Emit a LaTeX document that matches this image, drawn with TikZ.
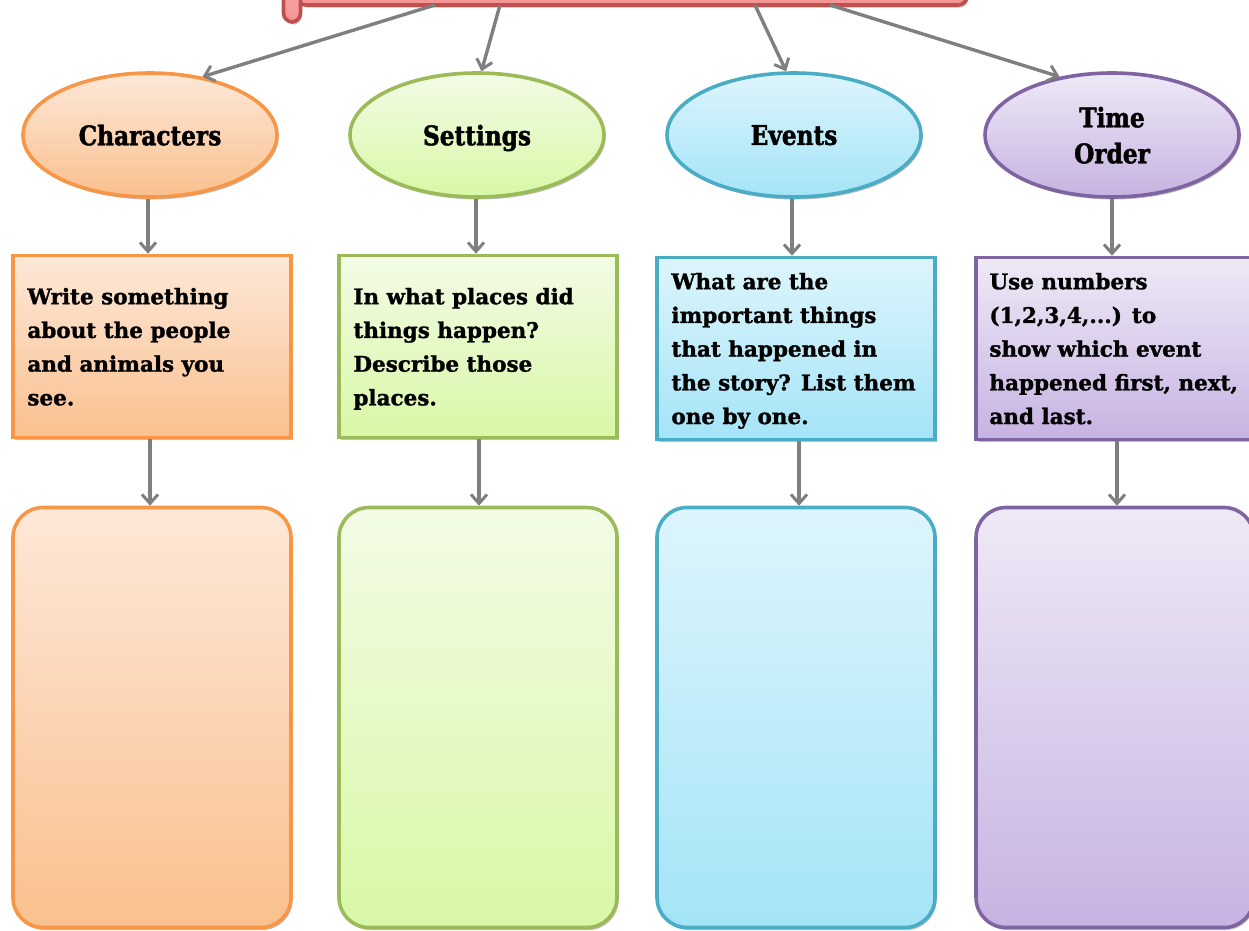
\documentclass[tikz,border=0pt]{standalone}
\usepackage{fontspec}
\setmainfont{DejaVu Serif}
\newfontfamily\lblfont{DejaVu Serif Bold}[FakeStretch=0.86,FakeBold=1.6]
\newfontfamily\boxfont{DejaVu Serif Bold}[FakeBold=1.3]
\usetikzlibrary{arrows.meta,shadows,shapes.geometric}
\definecolor{arrgray}{HTML}{7F7F7F}
\definecolor{orB}{HTML}{F79646}\definecolor{orT}{HTML}{FDE8D8}\definecolor{orD}{HTML}{FAC08F}
\definecolor{grB}{HTML}{9BBB59}\definecolor{grT}{HTML}{F3FBE6}\definecolor{grD}{HTML}{D8F8A6}
\definecolor{blB}{HTML}{4BACC6}\definecolor{blT}{HTML}{DDF5FC}\definecolor{blD}{HTML}{A4E4F7}
\definecolor{puB}{HTML}{8064A2}\definecolor{puT}{HTML}{EEE9F6}\definecolor{puD}{HTML}{C7B3E2}
\definecolor{rdB}{HTML}{C0504D}\definecolor{rdT}{HTML}{F8A3A3}\definecolor{rdD}{HTML}{F59595}
\begin{document}
\begin{tikzpicture}[x=1pt,y=-1pt,
  shad/.style={drop shadow={shadow xshift=1.5pt,shadow yshift=-2.5pt,opacity=0.25,fill=black}},
  ell/.style={ellipse,line width=3.6pt,minimum width=254pt,minimum height=124pt,inner sep=0pt,
    font=\lblfont\fontsize{27}{36}\selectfont,align=center,text depth=0pt,shad},
  qbox/.style={rectangle,line width=3.6pt,minimum width=278pt,minimum height=182pt,inner sep=0pt,shad},
  rbox/.style={rectangle,rounded corners=30pt,line width=3.6pt,minimum width=278pt,minimum height=420pt,inner sep=0pt,shad},
  txt/.style={inner sep=0pt,align=left,font=\boxfont\fontsize{21.5}{33.7}\selectfont},
  orng/.style={draw=orB,top color=orT,bottom color=orD},
  grn/.style={draw=grB,top color=grT,bottom color=grD},
  blu/.style={draw=blB,top color=blT,bottom color=blD},
  pur/.style={draw=puB,top color=puT,bottom color=puD},
  arr/.style={draw=arrgray,line width=3.4pt,-{Straight Barb[length=9pt,width=16pt,line width=3pt]}},
  titlebox/.style={draw=rdB,line width=3.6pt,top color=rdT,bottom color=rdD,rounded corners=9pt,inner sep=0pt,shad},
]
\useasboundingbox (0,0) rectangle (1249,930);

% title scroll (cut off at the top)
\node[titlebox,minimum width=670pt,minimum height=50pt] (title) at (632,-20) {};
\node[titlebox,minimum width=17pt,minimum height=36pt] (tab) at (292,4) {};

% ellipses
\node[ell,orng] (ch) at (150,135) {Characters};
\node[ell,grn]  (st) at (477,135) {Settings};
\node[ell,blu]  (ev) at (794,135) {Events};
\node[ell,pur]  (to) at (1112,135) {Time\\Order};

% question boxes
\node[qbox,orng] (cq) at (152,346.5) {};
\node[qbox,grn]  (sq) at (478,346.5) {};
\node[qbox,blu]  (eq) at (796,348.5) {};
\node[qbox,pur]  (tq) at (1115,348.5) {};

\node[txt,anchor=north west] (cqt) at ([xshift=16pt,yshift=-34pt]cq.north west) {Write something\\about the people\\and animals you\\see.};
\node[txt,anchor=north west] (sqt) at ([xshift=16pt,yshift=-34pt]sq.north west) {In what places did\\things happen?\\Describe those\\places.};
\node[txt,anchor=north west] (eqt) at ([xshift=16pt,yshift=-17pt]eq.north west) {What are the\\important things\\that happened in\\the story? List them\\one by one.};
\node[txt,anchor=north west] (tqt) at ([xshift=15pt,yshift=-17pt]tq.north west) {Use numbers\\(1,2,3,4,...) to\\show which event\\happened first, next,\\and last.};

% answer boxes
\node[rbox,orng] (ca) at (152,717.5) {};
\node[rbox,grn]  (sa) at (478,717.5) {};
\node[rbox,blu]  (ea) at (796,717.5) {};
\node[rbox,pur]  (ta) at (1115,717.5) {};

% arrows from title
\coordinate (s1) at (435,5);
\coordinate (s2) at (500,5);
\coordinate (s3) at (755,5);
\coordinate (s4) at (830,5);
\draw[arr] (s1) -- (ch.48);
\draw[arr] (s2) -- (st.86);
\draw[arr] (s3) -- (ev.97);
\draw[arr] (s4) -- (to.132);

% vertical arrows
\draw[arr] (ch.south -| 148,0) -- (cq.north -| 148,0);
\draw[arr] (st.south -| 476,0) -- (sq.north -| 476,0);
\draw[arr] (ev.south -| 792,0) -- (eq.north -| 792,0);
\draw[arr] (to.south -| 1112,0) -- (tq.north -| 1112,0);
\draw[arr] (cq.south -| 150,0) -- (ca.north -| 150,0);
\draw[arr] (sq.south -| 479,0) -- (sa.north -| 479,0);
\draw[arr] (eq.south -| 799,0) -- (ea.north -| 799,0);
\draw[arr] (tq.south -| 1117,0) -- (ta.north -| 1117,0);
\end{tikzpicture}
\end{document}
